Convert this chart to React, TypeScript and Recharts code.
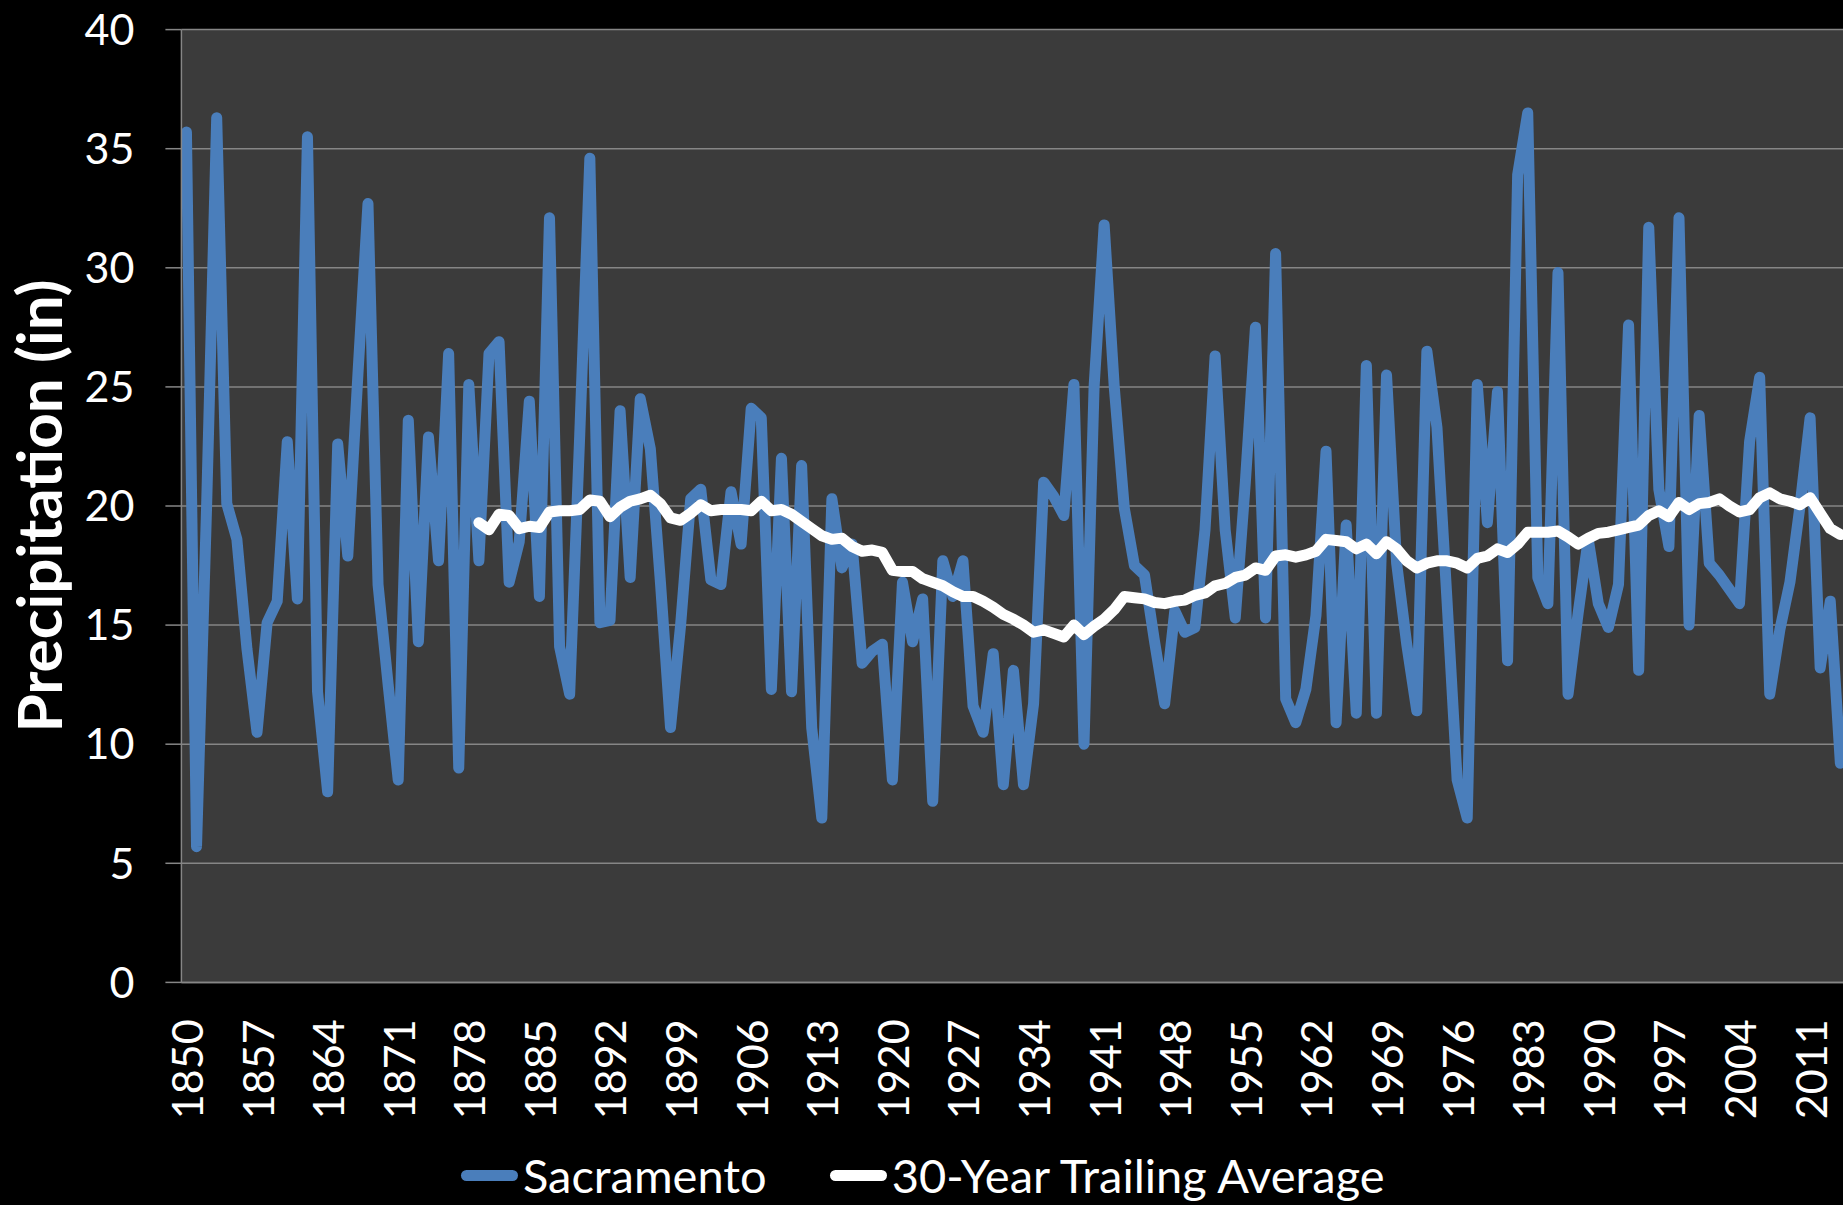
import { LineChart, Line, XAxis, YAxis, CartesianGrid, Legend } from 'recharts';

const FONT = 'Lato, "Open Sans", sans-serif';
const BLUE = '#4A7EBB';
const GRID = '#868686';

// one category per year, 1850..2014
const YEARS = Array.from({ length: 165 }, (_, i) => 1850 + i);

const SACRAMENTO = [
  35.7, 5.7, 20.0, 36.3, 20.1, 18.6, 14.0, 10.5, 15.1, 16.0,
  22.7, 16.1, 35.5, 12.2, 8.0, 22.6, 17.9, 25.5, 32.7, 16.7,
  12.5, 8.5, 23.6, 14.3, 22.9, 17.7, 26.4, 9.0, 25.1, 17.7,
  26.4, 26.9, 16.8, 18.5, 24.4, 16.2, 32.1, 14.1, 12.1, 23.0,
  34.6, 15.1, 15.2, 24.0, 17.0, 24.5, 22.4, 16.8, 10.7, 15.0,
  20.3, 20.7, 16.9, 16.7, 20.6, 18.4, 24.1, 23.7, 12.3, 22.0,
  12.2, 21.7, 10.7, 6.9, 20.3, 17.4, 18.4, 13.4, 13.9, 14.2,
  8.5, 16.8, 14.3, 16.1, 7.6, 17.7, 16.2, 17.7, 11.6, 10.5,
  13.8, 8.3, 13.1, 8.3, 11.7, 21.0, 20.4, 19.6, 25.1, 10.0,
  25.0, 31.8, 25.0, 19.9, 17.5, 17.1, 14.3, 11.7, 15.6, 14.7,
  14.9, 19.0, 26.3, 19.0, 15.3, 21.0, 27.5, 15.3, 30.6, 11.9,
  10.9, 12.3, 15.4, 22.3, 10.9, 19.2, 11.3, 25.9, 11.3, 25.5,
  17.6, 14.2, 11.4, 26.5, 23.3, 16.0, 8.5, 6.9, 25.1, 19.3,
  24.8, 13.5, 33.9, 36.5, 17.0, 15.9, 29.8, 12.1, 15.5, 18.6,
  15.9, 14.9, 16.7, 27.6, 13.1, 31.7, 20.7, 18.3, 32.1, 15.0,
  23.8, 17.6, 17.1, 16.5, 15.9, 22.7, 25.4, 12.1, 14.8, 16.8,
  20.0, 23.7, 13.2, 16.0, 9.2,
];

// trailing average starts once 30 years are available
const AVG_START = 1879;
const TRAILING_AVG = [
  19.3, 19.0, 19.65, 19.6, 19.05, 19.15, 19.1, 19.75, 19.8, 19.8,
  19.85, 20.25, 20.2, 19.55, 19.95, 20.2, 20.3, 20.45, 20.1, 19.5,
  19.4, 19.7, 20.05, 19.8, 19.85, 19.85, 19.85, 19.8, 20.2, 19.8,
  19.85, 19.65, 19.35, 19.05, 18.75, 18.6, 18.65, 18.3, 18.1, 18.15,
  18.05, 17.3, 17.25, 17.25, 16.95, 16.8, 16.65, 16.4, 16.2, 16.2,
  16.0, 15.75, 15.45, 15.25, 15.0, 14.7, 14.8, 14.65, 14.5, 15.0,
  14.6, 14.95, 15.25, 15.65, 16.2, 16.15, 16.1, 15.95, 15.9, 16.0,
  16.05, 16.25, 16.35, 16.65, 16.75, 17.0, 17.1, 17.4, 17.3, 17.9,
  17.95, 17.85, 17.95, 18.1, 18.6, 18.55, 18.5, 18.2, 18.4, 18.0,
  18.5, 18.2, 17.7, 17.4, 17.6, 17.7, 17.7, 17.6, 17.4, 17.8,
  17.9, 18.2, 18.05, 18.4, 18.9, 18.9, 18.9, 18.95, 18.7, 18.4,
  18.65, 18.85, 18.9, 19.0, 19.1, 19.2, 19.6, 19.8, 19.55, 20.15,
  19.85, 20.1, 20.15, 20.3, 20.0, 19.75, 19.85, 20.35, 20.55, 20.3,
  20.2, 20.05, 20.35, 19.7, 19.05, 18.8,
];

const LABEL_YEARS = [
  1850, 1857, 1864, 1871, 1878, 1885, 1892, 1899, 1906, 1913, 1920, 1927,
  1934, 1941, 1948, 1955, 1962, 1969, 1976, 1983, 1990, 1997, 2004, 2011,
];
const Y_TICKS = [0, 5, 10, 15, 20, 25, 30, 35, 40];

const SERIES = [
  { key: 'sacramento', name: 'Sacramento', color: BLUE },
  { key: 'average', name: '30-Year Trailing Average', color: '#fff' },
];

const chartData = YEARS.map((year, i) => ({
  year,
  sacramento: SACRAMENTO[i],
  average: year >= AVG_START ? TRAILING_AVG[year - AVG_START] : null,
}));

// excel puts the category tick marks between the years
const X_DOMAIN = [YEARS[0] - 0.5, YEARS[YEARS.length - 1] + 0.5];
const tickEdges = [...YEARS.map((y) => y - 0.5), YEARS[YEARS.length - 1] + 0.5];

const YearTick = ({ x, y, payload }: any) => {
  const ty = y + 19;
  return (
    <text
      x={x}
      y={ty}
      transform={`rotate(-90, ${x}, ${ty})`}
      textAnchor="end"
      dominantBaseline="central"
      fill="#fff"
      fontSize={43}
      fontFamily={FONT}
    >
      {payload.value}
    </text>
  );
};

const YTitle = ({ viewBox }: any) => {
  const cx = 38;
  const cy = viewBox ? viewBox.y + viewBox.height / 2 : 506;
  return (
    <text
      x={cx}
      y={cy}
      transform={`rotate(-90, ${cx}, ${cy})`}
      textAnchor="middle"
      dominantBaseline="central"
      fill="#fff"
      fontSize={62}
      fontWeight={700}
      fontFamily={FONT}
    >
      Precipitation (in)
    </text>
  );
};

// fixed order, same as the excel legend
const LegendContent = () => (
  <div
    style={{
      display: 'flex',
      justifyContent: 'center',
      alignItems: 'center',
      height: 56,
      paddingBottom: 4,
      boxSizing: 'border-box',
      fontFamily: FONT,
      fontSize: 47,
      lineHeight: '50px',
      color: '#fff',
    }}
  >
    {SERIES.map((s, i) => (
      <div
        key={s.key}
        style={{ display: 'flex', alignItems: 'center', marginLeft: i > 0 ? 63 : 0 }}
      >
        <span
          style={{
            display: 'inline-block',
            width: 57,
            height: 11,
            borderRadius: 6,
            background: s.color,
            marginRight: 5,
          }}
        />
        <span>{s.name}</span>
      </div>
    ))}
  </div>
);

export default function App() {
  return (
    <div
      style={{
        position: 'fixed',
        left: 0,
        top: 0,
        width: 1843,
        height: 1205,
        overflow: 'hidden',
        background: '#000',
      }}
    >
      <LineChart
        width={1846}
        height={1205}
        data={chartData}
        margin={{ top: 29.6, right: 0.6, bottom: 0, left: 0 }}
      >
        <CartesianGrid
          vertical={false}
          fill="#3B3B3B"
          stroke={GRID}
          strokeWidth={1.5}
          xAxisId="years"
          yAxisId="p"
        />
        <XAxis
          xAxisId="marks"
          dataKey="year"
          type="number"
          domain={X_DOMAIN}
          allowDataOverflow
          ticks={tickEdges}
          interval={0}
          tick={() => <g />}
          height={0}
          axisLine={false}
          tickLine={{ stroke: GRID, strokeWidth: 1.5 }}
          tickSize={16}
        />
        <XAxis
          xAxisId="years"
          dataKey="year"
          type="number"
          domain={X_DOMAIN}
          allowDataOverflow
          ticks={LABEL_YEARS}
          interval={0}
          tick={<YearTick />}
          tickLine={false}
          tickSize={16}
          height={166.6}
          axisLine={{ stroke: GRID, strokeWidth: 1.5 }}
        />
        <YAxis
          yAxisId="p"
          domain={[0, 40]}
          ticks={Y_TICKS}
          interval={0}
          width={181.4}
          tickSize={16}
          tickMargin={31}
          tick={{ fill: '#fff', fontSize: 43, fontFamily: FONT }}
          axisLine={{ stroke: GRID, strokeWidth: 1.5 }}
          tickLine={{ stroke: GRID, strokeWidth: 1.5 }}
          label={{ content: YTitle }}
        />
        <Legend verticalAlign="bottom" content={LegendContent} />
        <Line
          xAxisId="years"
          yAxisId="p"
          type="linear"
          dataKey="sacramento"
          name="Sacramento"
          stroke={BLUE}
          strokeWidth={11}
          strokeLinejoin="round"
          strokeLinecap="round"
          dot={false}
          activeDot={false}
          isAnimationActive={false}
        />
        <Line
          xAxisId="years"
          yAxisId="p"
          type="linear"
          dataKey="average"
          name="30-Year Trailing Average"
          stroke="#fff"
          strokeWidth={11}
          strokeLinejoin="round"
          strokeLinecap="round"
          dot={false}
          activeDot={false}
          isAnimationActive={false}
        />
      </LineChart>
    </div>
  );
}
